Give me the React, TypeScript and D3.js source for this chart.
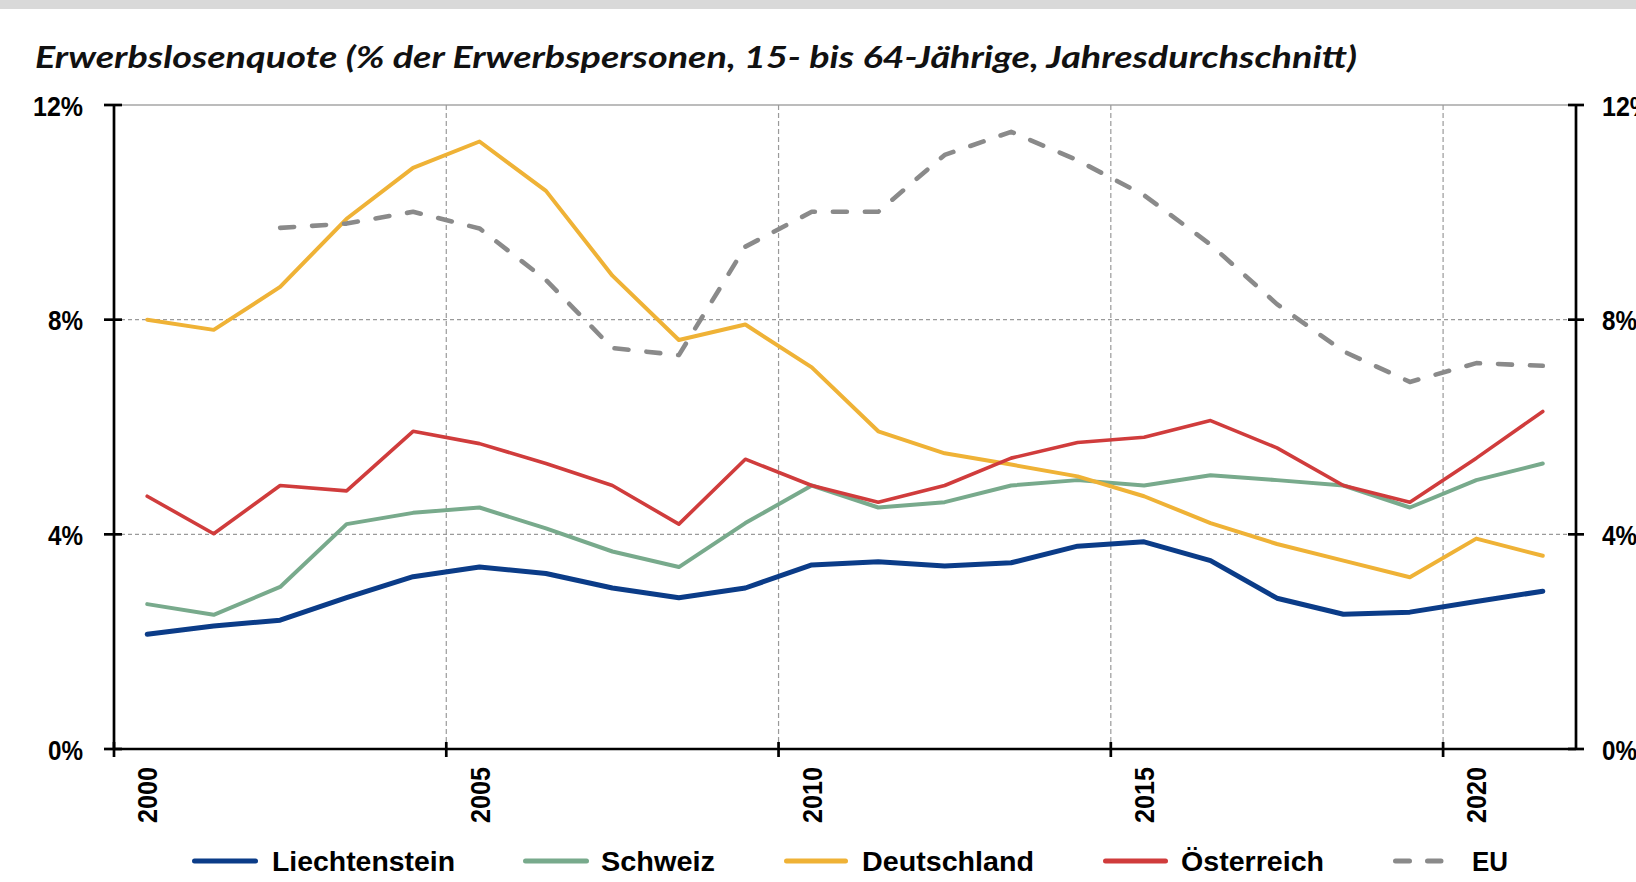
import React from "react";
import * as d3 from "d3";

const years = [2000,2001,2002,2003,2004,2005,2006,2007,2008,2009,2010,2011,2012,2013,2014,2015,2016,2017,2018,2019,2020,2021];
const liechtenstein = [2.14,2.29,2.40,2.82,3.21,3.39,3.27,3.00,2.82,3.00,3.43,3.49,3.41,3.47,3.78,3.86,3.51,2.81,2.51,2.55,2.75,2.94];
const schweiz = [2.70,2.50,3.02,4.19,4.40,4.50,4.11,3.68,3.39,4.21,4.91,4.50,4.60,4.91,5.01,4.91,5.10,5.01,4.91,4.50,5.01,5.32];
const deutschland = [8.0,7.81,8.61,9.88,10.83,11.32,10.40,8.82,7.62,7.91,7.11,5.92,5.51,5.30,5.08,4.71,4.21,3.82,3.51,3.20,3.92,3.60];
const oesterreich = [4.71,4.01,4.91,4.81,5.92,5.69,5.32,4.91,4.19,5.40,4.91,4.60,4.91,5.42,5.71,5.81,6.12,5.61,4.91,4.60,5.42,6.29];
const eu = [null,null,9.71,9.79,10.01,9.70,8.74,7.47,7.34,9.36,10.01,10.01,11.07,11.50,10.97,10.32,9.40,8.29,7.41,6.84,7.19,7.14];
const yTicks = [0,4,8,12];
const yTickLabels = ["0%","4%","8%","12%"];
const xLabelYears = [2000,2005,2010,2015,2020];
const gridYears = [2005,2010,2015,2020];
const title = "Erwerbslosenquote (% der Erwerbspersonen, 15- bis 64-Jährige, Jahresdurchschnitt)";

const seriesNames = ["Liechtenstein","Schweiz","Deutschland","Österreich","EU"];
const seriesData: (number|null)[][] = [liechtenstein, schweiz, deutschland, oesterreich, eu];
const seriesColors = ["#0b3c88","#78aa8c","#efb236","#d03c3c","#8a8a8a"];
const seriesWidths = [5,4,4,3.6,4.6];

export default function App() {
  const left = 114, right = 1576, top = 105, bottom = 749;
  const x = d3.scaleBand<number>().domain(years).range([left, right]).padding(0);
  const bw = x.bandwidth();
  const cx = (yr: number) => (x(yr) as number) + bw / 2;
  const y = d3.scaleLinear().domain([0, 12]).range([bottom, top]);

  const lineGen = d3.line<number | null>()
    .defined((d) => d != null)
    .x((_, i) => cx(years[i]))
    .y((d) => y(d as number));

  const font = "'Liberation Sans', Arial, sans-serif";
  const labelW: Record<string, number> = { "0%": 35, "4%": 35, "8%": 35, "12%": 50 };

  const legendItems = [
    { x1: 194.5, x2: 255.5, tx: 272, tl: 183 },
    { x1: 525.5, x2: 586.5, tx: 601, tl: 114 },
    { x1: 786.5, x2: 845.5, tx: 862, tl: 172 },
    { x1: 1105.5, x2: 1165.5, tx: 1181, tl: 143 },
    { x1: 1395.5, x2: 1441, tx: 1472, tl: 36 },
  ];

  return (
    <div style={{ position: "absolute", left: 0, top: 0 }}>
      <svg width={1636} height={882} style={{ display: "block", background: "#fff" }}>
        <rect x={0} y={0} width={1636} height={9} fill="#d9d9d9" />
        <text x={35} y={68} fontFamily="Lato, 'Open Sans', sans-serif" fontStyle="italic" fontWeight={700}
          fontSize={31} textLength={1322} lengthAdjust="spacingAndGlyphs" fill="#111">{title}</text>

        {/* horizontal gridlines */}
        {yTicks.filter((t) => t > 0 && t < 12).map((t) => (
          <line key={"hg" + t} x1={left} x2={right} y1={y(t)} y2={y(t)} stroke="#9a9a9a" strokeWidth={1.2} strokeDasharray="4 3" />
        ))}
        <line x1={left} x2={right} y1={y(12)} y2={y(12)} stroke="#a6a6a6" strokeWidth={1.6} />
        {/* vertical gridlines */}
        {gridYears.map((g) => (
          <line key={"vg" + g} x1={x(g)} x2={x(g)} y1={top} y2={bottom} stroke="#9a9a9a" strokeWidth={1.2} strokeDasharray="5 3" />
        ))}

        {/* series */}
        {seriesData.map((s, i) => (
          <path key={seriesNames[i]} d={lineGen(s) || ""} fill="none" stroke={seriesColors[i]}
            strokeWidth={seriesWidths[i]} strokeLinejoin="round" strokeLinecap="round"
            strokeDasharray={i === 4 ? "14 18" : undefined} />
        ))}

        {/* axes */}
        <line x1={left} x2={left} y1={top} y2={bottom} stroke="#000" strokeWidth={2.7} />
        <line x1={right} x2={right} y1={top} y2={bottom} stroke="#000" strokeWidth={2.7} />
        <line x1={left} x2={right} y1={bottom} y2={bottom} stroke="#000" strokeWidth={2.7} />
        {yTicks.map((t) => (
          <g key={"yt" + t}>
            <line x1={left - 10} x2={left + 8} y1={y(t)} y2={y(t)} stroke="#000" strokeWidth={2.7} />
            <line x1={right - 8} x2={right + 8} y1={y(t)} y2={y(t)} stroke="#000" strokeWidth={2.7} />
          </g>
        ))}
        {[years[0], ...gridYears].map((g) => (
          <line key={"xt" + g} x1={x(g)} x2={x(g)} y1={bottom - 7} y2={bottom + 8} stroke="#000" strokeWidth={2.7} />
        ))}

        {/* y labels */}
        {yTicks.map((t, i) => (
          <g key={"yl" + t}>
            <text x={83} y={y(t) + 10.5} textAnchor="end" fontFamily={font} fontWeight={700} fontSize={28}
              textLength={labelW[yTickLabels[i]]} lengthAdjust="spacingAndGlyphs" fill="#000">{yTickLabels[i]}</text>
            <text x={1602} y={y(t) + 10.5} textAnchor="start" fontFamily={font} fontWeight={700} fontSize={28}
              textLength={labelW[yTickLabels[i]]} lengthAdjust="spacingAndGlyphs" fill="#000">{yTickLabels[i]}</text>
          </g>
        ))}

        {/* x labels */}
        {xLabelYears.map((yr) => (
          <text key={"xl" + yr} transform={`translate(${cx(yr) + 10},767) rotate(-90)`} textAnchor="end"
            fontFamily={font} fontWeight={700} fontSize={28} textLength={56} lengthAdjust="spacingAndGlyphs" fill="#000">{yr}</text>
        ))}

        {/* legend */}
        {legendItems.map((it, i) => (
          <g key={"lg" + i}>
            <line x1={it.x1} x2={it.x2} y1={861} y2={861} stroke={seriesColors[i]} strokeWidth={5}
              strokeLinecap="round" strokeDasharray={i === 4 ? "14 18" : undefined} />
            <text x={it.tx} y={871} fontFamily={font} fontWeight={700} fontSize={28.5}
              textLength={it.tl} lengthAdjust="spacingAndGlyphs" fill="#000">{seriesNames[i]}</text>
          </g>
        ))}
      </svg>
    </div>
  );
}
